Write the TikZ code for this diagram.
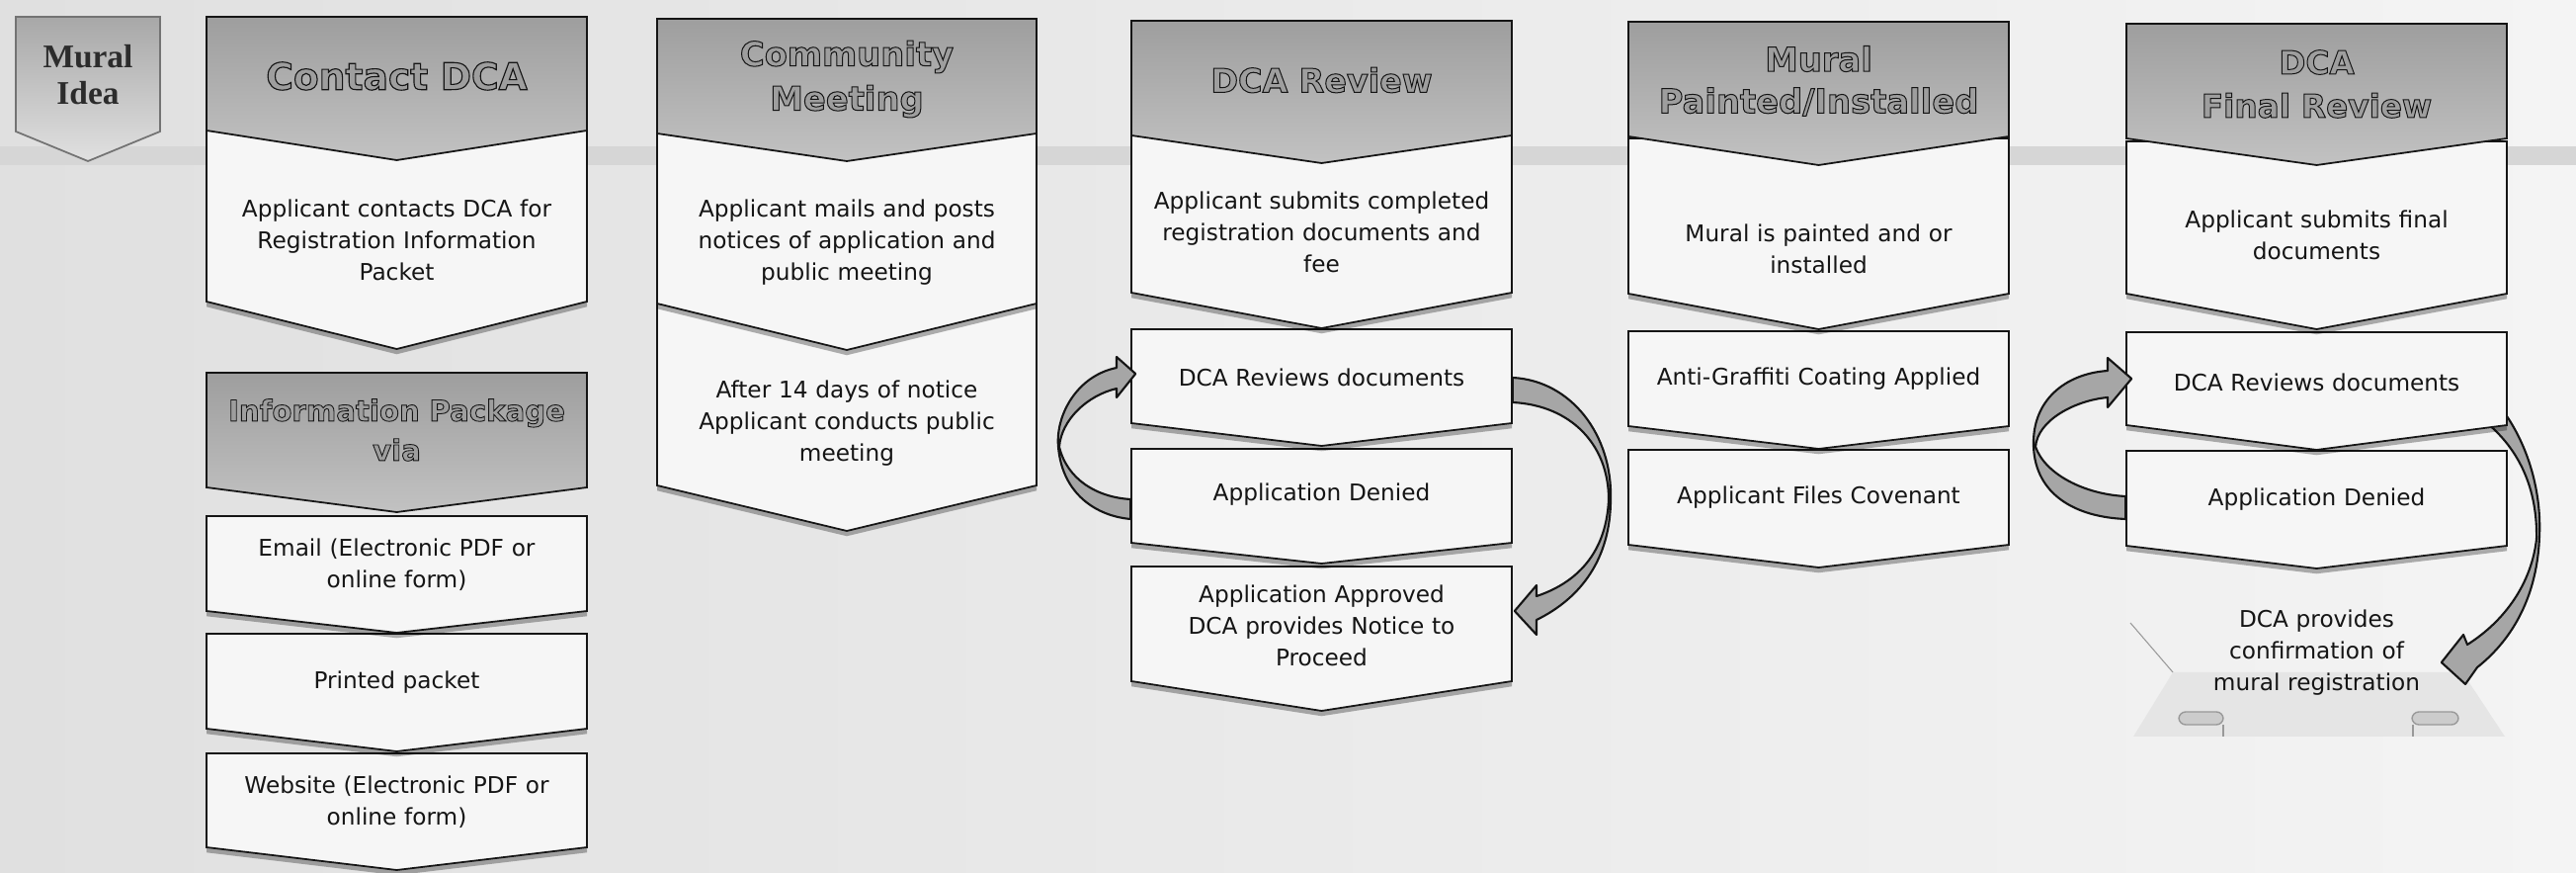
\documentclass[tikz,border=0pt]{standalone}
\usepackage{fontspec}
\setmainfont{DejaVu Sans}
\newfontfamily\hdrfont{DejaVu Sans Bold}[FakeBold=3]
\newfontfamily\ideafont{Liberation Serif}
\usetikzlibrary{calc,shadows}
\pgfdeclarelayer{back}
\pgfdeclarelayer{under}
\pgfsetlayers{back,under,main}

\definecolor{bgL}{HTML}{E0E0E0}
\definecolor{bgR}{HTML}{F4F4F4}
\definecolor{bandc}{HTML}{D6D6D6}
\definecolor{hdrTop}{HTML}{9E9E9E}
\definecolor{hdrBot}{HTML}{C2C2C2}
\definecolor{boxW}{HTML}{F6F6F6}
\definecolor{arrG}{HTML}{A6A6A6}
\definecolor{ink}{HTML}{151515}

% [style]{x1}{x2}{top}{side bottom}{tip}
\newcommand\chev[6][]{\path[#1] (#2,#4) -- (#3,#4) -- (#3,#5) -- ({(#2+#3)/2},#6) -- (#2,#5) -- cycle;}
\newcommand\lite{\special{pdf:literal direct 0.62 0.62 0.62 rg}}

\begin{document}
\begin{tikzpicture}[x=0.01cm,y=-0.01cm,
  hdrshape/.style={draw=ink, line width=0.5pt, top color=hdrTop, bottom color=hdrBot},
  boxshape/.style={draw=ink, line width=0.5pt, fill=boxW,
     drop shadow={shadow xshift=0pt, shadow yshift=-1.5pt, opacity=0.3, fill=black}},
  txt/.style={inner sep=0pt, text width=3.85cm, align=center, text=ink},
  bodytxt/.style={txt, font=\fontsize{6.6}{9}\selectfont},
  ribbon/.style={draw=ink, line width=0.6pt, fill=arrG, line join=round},
]
\useasboundingbox (0,0) rectangle (2607,883);
\begin{pgfonlayer}{back}
\shade[left color=bgL, right color=bgR] (0,0) rectangle (2607,883);
\fill[bandc] (0,148) rectangle (2607,167);
% base under the confirmation text
\fill[black!10] (2199,680) -- (2492,680) -- (2535,745) -- (2159,745) -- cycle;
\draw[black!40, line width=0.3pt] (2156,630) -- (2199,680);
\draw[black!40, line width=0.4pt, fill=black!20, rounded corners=2pt] (2205,720) rectangle (2250,733);
\draw[black!40, line width=0.4pt] (2250,733) -- (2250,745);
\draw[black!40, line width=0.4pt, fill=black!20, rounded corners=2pt] (2441,720) rectangle (2488,733);
\draw[black!40, line width=0.4pt] (2442,733) -- (2442,745);
\end{pgfonlayer}

% Mural Idea
\chev[draw=black!55, line width=0.5pt, top color=hdrTop!90, bottom color=black!12]{16}{162}{17}{133}{163}
% Column B
\chev[boxshape]{209}{594}{762}{857}{880}
\chev[boxshape]{209}{594}{641}{737}{760}
\chev[boxshape]{209}{594}{522}{618}{640}
\chev[hdrshape]{209}{594}{377}{493}{518}
\chev[boxshape]{209}{594}{132}{305}{353}
\chev[hdrshape]{209}{594}{17}{132}{162}
% Column C
\chev[boxshape]{665}{1049}{307}{491}{537}
\chev[boxshape]{665}{1049}{135}{307}{354}
\chev[hdrshape]{665}{1049}{19}{135}{163}
% Column D
\chev[boxshape]{1145}{1530}{573}{689}{719}
\chev[boxshape]{1145}{1530}{454}{549}{570}
\chev[boxshape]{1145}{1530}{333}{428}{451}
\chev[boxshape]{1145}{1530}{137}{296}{332}
\chev[hdrshape]{1145}{1530}{21}{137}{165}
% Column E
\chev[boxshape]{1648}{2033}{455}{551}{574}
\chev[boxshape]{1648}{2033}{335}{431}{454}
\chev[boxshape]{1648}{2033}{140}{297}{333}
\chev[hdrshape]{1648}{2033}{22}{138}{167}
% Column F
\chev[boxshape]{2152}{2537}{456}{552}{575}
\chev[boxshape]{2152}{2537}{336}{430}{455}
\chev[boxshape]{2152}{2537}{143}{297}{333}
\chev[hdrshape]{2152}{2537}{24}{140}{167}

% Texts
\node[txt, text width=1.46cm, text=ink!90, font={\ideafont\bfseries\fontsize{9.5}{10.5}\selectfont}] (idea) at (89,76) {Mural\\Idea};

\node[txt, font={\hdrfont\fontsize{10.7}{12.8}\selectfont}] (b0) at (401.5,77) {\lite Contact DCA};
\node[bodytxt] (b1) at (401.5,243) {Applicant contacts DCA for\\Registration Information\\Packet};
\node[txt, font={\hdrfont\fontsize{8.3}{11.4}\selectfont}] (b2) at (401.5,435) {\lite Information Package\\via};
\node[bodytxt] (b3) at (401.5,571) {Email (Electronic PDF or\\online form)};
\node[bodytxt] (b4) at (401.5,690) {Printed packet};
\node[bodytxt] (b5) at (401.5,811) {Website (Electronic PDF or\\online form)};

\node[txt, font={\hdrfont\fontsize{9.6}{12.8}\selectfont}] (c0) at (857,80) {\lite Community\\Meeting};
\node[bodytxt] (c1) at (857,245) {Applicant mails and posts\\notices of application and\\public meeting};
\node[bodytxt] (c2) at (857,428) {After 14 days of notice\\Applicant conducts public\\meeting};

\node[txt, font={\hdrfont\fontsize{9.5}{12}\selectfont}] (d0) at (1337.5,81) {\lite DCA Review};
\node[bodytxt] (d1) at (1337.5,235) {Applicant submits completed\\registration documents and\\fee};
\node[bodytxt] (d2) at (1337.5,382) {DCA Reviews documents};
\node[bodytxt] (d3) at (1337.5,500.5) {Application Denied};
\node[bodytxt] (d4) at (1337.5,633) {Application Approved\\DCA provides Notice to\\Proceed};

\node[txt, font={\hdrfont\fontsize{9.6}{12}\selectfont}] (e0) at (1840.5,82) {\lite Mural\\Painted/Installed};
\node[bodytxt] (e1) at (1840.5,252) {Mural is painted and or\\installed};
\node[bodytxt] (e2) at (1840.5,383) {Anti-Graffiti Coating Applied};
\node[bodytxt] (e3) at (1840.5,503) {Applicant Files Covenant};

\node[txt, font={\hdrfont\fontsize{9.3}{12.5}\selectfont}] (f0) at (2344.5,85) {\lite DCA\\Final Review};
\node[bodytxt] (f1) at (2344.5,238) {Applicant submits final\\documents};
\node[bodytxt] (f2) at (2344.5,387) {DCA Reviews documents};
\node[bodytxt] (f3) at (2344.5,505) {Application Denied};
\node[bodytxt] (f4) at (2344.5,660) {DCA provides\\confirmation of\\mural registration};

% Loop arrows, DCA Review
\path[ribbon] ($(d3.west)+(0,24.5)$)
  .. controls (1110,522) and (1075,500) .. (1071,452)
  .. controls (1068,420) and (1090,380) .. (1130,372)
  -- (1130,361) -- ($(d2.west)+(5,-4)$) -- (1130,402) -- (1130,393)
  .. controls (1100,400) and (1074,425) .. (1072,452)
  .. controls (1080,485) and (1110,503) .. ($(d3.west)+(0,4.5)$) -- cycle;
\path[ribbon] (d2.east)
  .. controls (1590,385) and (1632,440) .. (1630,505)
  .. controls (1630,565) and (1600,605) .. (1555,627)
  -- (1555,642) -- ($(d4.east)+(2,-15)$) -- (1555,592) -- (1555,603)
  .. controls (1600,588) and (1626,555) .. (1628,505)
  .. controls (1628,450) and (1590,410) .. ($(d2.east)+(0,25)$) -- cycle;
% Loop arrows, DCA Final Review
\path[ribbon] ($(f3.west)+(0,20)$)
  .. controls (2100,523) and (2060,500) .. (2058,452)
  .. controls (2056,405) and (2090,378) .. (2133,375)
  -- (2133,362) -- ($(f2.west)+(6,-4)$) -- (2133,412) -- (2133,402)
  .. controls (2100,405) and (2062,425) .. (2060,452)
  .. controls (2070,480) and (2110,500) .. ($(f3.west)+(0,-3)$) -- cycle;
\begin{pgfonlayer}{under}
\path[ribbon] ($(f2.east)+(-8,24)$)
  .. controls (2560,450) and (2572,500) .. (2570,542)
  .. controls (2568,600) and (2545,645) .. (2507,675)
  -- (2495,692) -- ($(f4.east)+(-67,10)$) -- (2493,642) -- (2497,652)
  .. controls (2535,628) and (2562,590) .. (2567,545)
  .. controls (2568,495) and (2550,455) .. ($(f2.east)+(-22,40)$) -- cycle;
\end{pgfonlayer}
\end{tikzpicture}
\end{document}
